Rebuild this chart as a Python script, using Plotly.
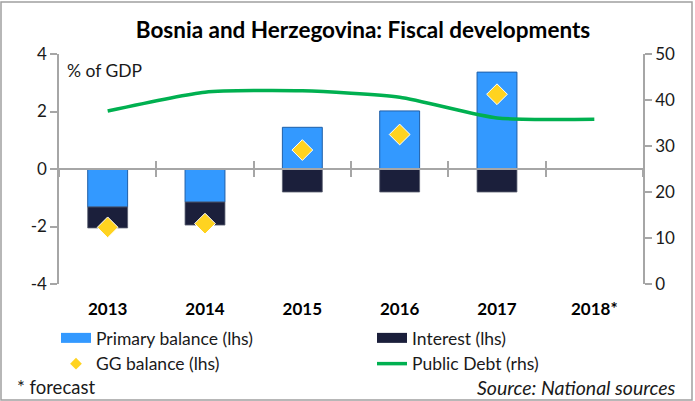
import plotly.graph_objects as go

years = ["2013", "2014", "2015", "2016", "2017", "2018*"]
primary_balance = [-1.32, -1.15, 1.45, 2.02, 3.37, None]
interest = [-0.73, -0.80, -0.80, -0.80, -0.80, None]
gg_balance = [-2.03, -1.90, 0.66, 1.20, 2.60, None]
public_debt = [37.6, 41.7, 42.0, 40.6, 36.1, 35.8]
lhs_ticks = [-4, -2, 0, 2, 4]
lhs_tick_labels = ["-4", "-2", "0", "2", "4"]

W, H = 695, 401
L, R, T, B = 59, 52, 54, 117
PW, PH = W - L - R, H - T - B

def px(x):
    return (x - L) / PW

def py(y):
    return (H - B - y) / PH

FONT = "Lato"
TXT = "#1a1a1a"
GRAY = "#A6A6A6"
BLUE = "#3399FF"
NAVY = "#1B1F3B"
YELLOW = "#FFD320"
GREEN = "#00B050"

fig = go.Figure()
fig.add_trace(go.Bar(
    x=years, y=primary_balance, name="Primary balance (lhs)", showlegend=False,
    legendgroup="pb",
    marker=dict(color=BLUE, line=dict(color="#1F5FA8", width=1)),
    xaxis="x", yaxis="y",
))
fig.add_trace(go.Bar(
    x=years, y=interest, name="Interest (lhs)", showlegend=False,
    legendgroup="int",
    marker=dict(color=NAVY, line=dict(color="#5A6070", width=0.8)),
    xaxis="x", yaxis="y",
))
fig.add_trace(go.Scatter(
    x=years, y=gg_balance, name="GG balance (lhs)", mode="markers",
    showlegend=False, legendgroup="gg",
    marker=dict(symbol="diamond", size=16, color=YELLOW, line=dict(color="white", width=1)),
    xaxis="x3", yaxis="y",
))
fig.add_trace(go.Scatter(
    x=years, y=public_debt, name="Public Debt (rhs)", mode="lines",
    showlegend=False, legendgroup="debt",
    line=dict(color=GREEN, width=3.5, shape="spline", smoothing=0.6),
    xaxis="x2", yaxis="y2",
))

# legend entries (keys only, no data)
fig.add_trace(go.Scatter(x=[None], y=[None], mode="lines", name="Primary balance (lhs)",
                         legendgroup="pb", line=dict(color=BLUE, width=12),
                         xaxis="x3", yaxis="y"))
fig.add_trace(go.Scatter(x=[None], y=[None], mode="lines", name="Interest (lhs)",
                         legendgroup="int", line=dict(color=NAVY, width=12),
                         xaxis="x3", yaxis="y"))
fig.add_trace(go.Scatter(x=[None], y=[None], mode="markers", name="GG balance (lhs)",
                         legendgroup="gg",
                         marker=dict(symbol="diamond", size=9, color=YELLOW),
                         xaxis="x3", yaxis="y"))
fig.add_trace(go.Scatter(x=[None], y=[None], mode="lines", name="Public Debt (rhs)",
                         legendgroup="debt", line=dict(color=GREEN, width=3.5),
                         xaxis="x3", yaxis="y"))

common_x = dict(type="category", categoryorder="array", categoryarray=years,
                range=[-0.5, 5.5], showgrid=False, zeroline=False)

fig.update_layout(
    width=W, height=H,
    margin=dict(l=L, r=R, t=T, b=B),
    paper_bgcolor="white", plot_bgcolor="white",
    font=dict(family=FONT, size=17, color=TXT),
    barmode="relative", bargap=0.59,
    showlegend=True,
    title=dict(text="<b>Bosnia and Herzegovina: Fiscal developments</b>",
               x=363 / W, xanchor="center", xref="container",
               y=1 - 30 / H, yanchor="middle", yref="container",
               font=dict(family=FONT, size=22.5, color="#000000")),
    xaxis=dict(**common_x, showline=False, ticks="", showticklabels=True,
               tickfont=dict(family=FONT, size=17, color="#000000", weight="bold"),
               ticklabelstandoff=13, anchor="y"),
    xaxis2=dict(**common_x, overlaying="x", anchor="free", position=0.5,
                showline=True, linecolor=GRAY, linewidth=1.5, ticks="outside",
                tickson="boundaries", ticklen=7, tickcolor=GRAY, tickwidth=1.5,
                showticklabels=False),
    xaxis3=dict(**common_x, overlaying="x", anchor="free", position=0.5,
                showline=True, linecolor=GRAY, linewidth=1.5, ticks="inside",
                tickson="boundaries", ticklen=7, tickcolor=GRAY, tickwidth=1.5,
                showticklabels=False),
    yaxis=dict(range=[-4, 4], tickvals=lhs_ticks, ticktext=lhs_tick_labels,
               showgrid=False, zeroline=False,
               showline=True, linecolor=GRAY, linewidth=1.5, ticks="outside",
               ticklen=7, tickcolor=GRAY, tickwidth=1.5,
               tickfont=dict(family=FONT, size=17, color=TXT)),
    yaxis2=dict(range=[0, 50], dtick=10, overlaying="y", side="right",
                showgrid=False, zeroline=False, showline=True, linecolor=GRAY,
                linewidth=1.5, ticks="outside", ticklen=7, tickcolor=GRAY,
                tickwidth=1.5, tickfont=dict(family=FONT, size=17, color=TXT)),
    legend=dict(orientation="h", x=px(56), xanchor="left", y=py(320), yanchor="top",
                entrywidth=271, entrywidthmode="pixels", traceorder="normal",
                font=dict(family=FONT, size=17.5, color=TXT),
                bgcolor="rgba(0,0,0,0)"),
    annotations=[
        dict(text="% of GDP", x=px(65), y=py(70), xref="paper", yref="paper",
             xanchor="left", yanchor="middle", showarrow=False,
             font=dict(family=FONT, size=17.5, color=TXT)),
        dict(text="* forecast", x=px(15), y=py(387), xref="paper", yref="paper",
             xanchor="left", yanchor="middle", showarrow=False,
             font=dict(family=FONT, size=18.5, color=TXT)),
        dict(text="<i>Source: National sources</i>", x=px(678), y=py(387),
             xref="paper", yref="paper", xanchor="right", yanchor="middle",
             showarrow=False, font=dict(family=FONT, size=19.5, color=TXT)),
    ],
    shapes=[
        dict(type="rect", xref="paper", yref="paper",
             x0=px(1), x1=px(692), y0=py(400), y1=py(2),
             line=dict(color="#A0A0A0", width=1.5), fillcolor="rgba(0,0,0,0)",
             layer="below"),
    ],
)

fig.write_html("out.html", config={"displayModeBar": False},
               post_script="document.body.style.margin='0';")
